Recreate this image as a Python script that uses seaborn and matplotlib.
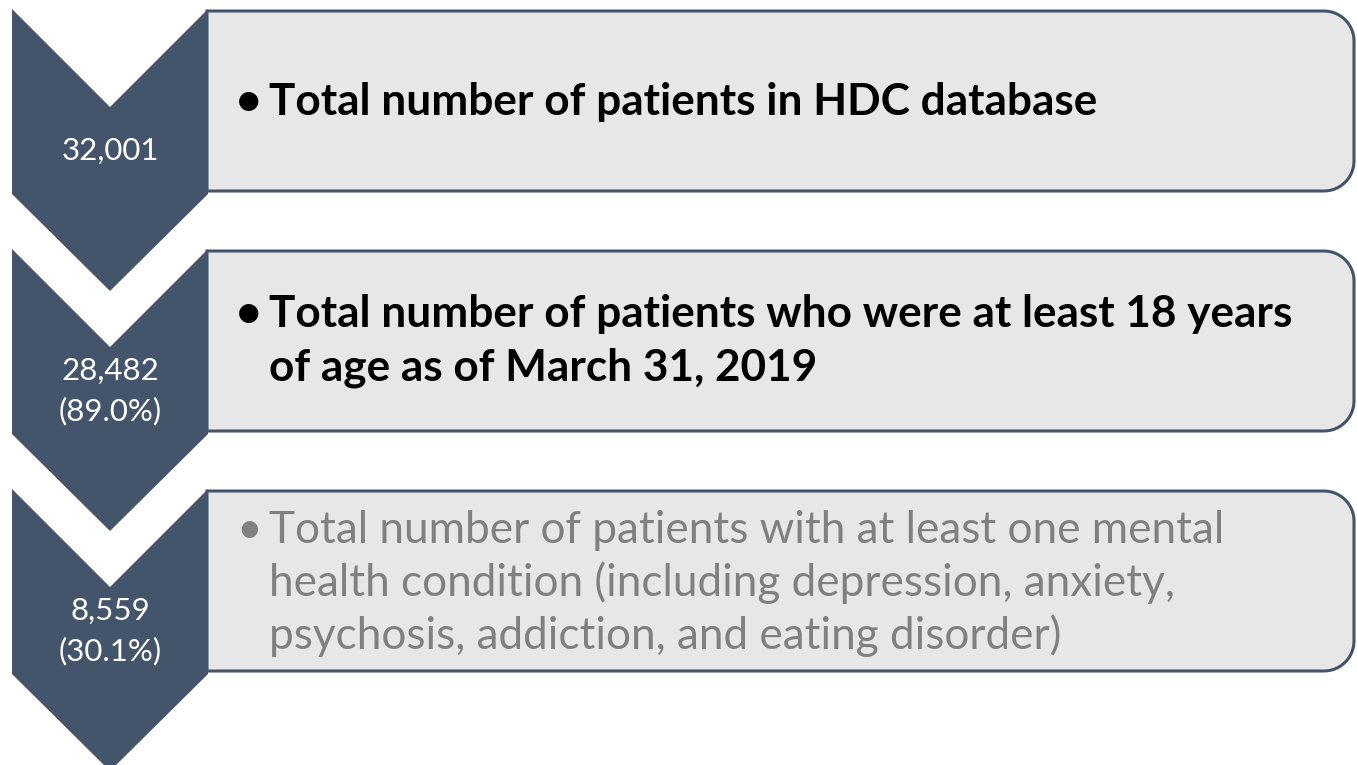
import numpy as np
import matplotlib.pyplot as plt
from matplotlib.patches import Polygon, PathPatch
from matplotlib.path import Path
import seaborn as sns

# Flow of patient selection (counts and share of previous step)
counts = ['32,001', '28,482', '8,559']
shares = ['', '(89.0%)', '(30.1%)']
steps = [
    ['Total number of patients in HDC database'],
    ['Total number of patients who were at least 18 years',
     'of age as of March 31, 2019'],
    ['Total number of patients with at least one mental',
     'health condition (including depression, anxiety,',
     'psychosis, addiction, and eating disorder)'],
]
bold_steps = [True, True, False]

chevron_color = '#44546A'
box_fill = '#E7E7E7'
text_colors = {True: '#000000', False: '#808080'}

sns.set_theme(style='white')
plt.rcParams['font.family'] = ['Lato', 'DejaVu Sans']

fig = plt.figure(figsize=(13.57, 7.65), dpi=100)
ax = fig.add_axes([0, 0, 1, 1])
ax.set_xlim(0, 1357)
ax.set_ylim(765, 0)
ax.axis('off')


def box_path(x0, y0, x1, y1, r):
    # square on the left, rounded on the right
    t1 = np.linspace(-np.pi / 2, 0, 15)
    t2 = np.linspace(0, np.pi / 2, 15)
    verts = [(x0, y0)]
    verts += [(x1 - r + r * np.cos(t), y0 + r + r * np.sin(t)) for t in t1]
    verts += [(x1 - r + r * np.cos(t), y1 - r + r * np.sin(t)) for t in t2]
    verts += [(x0, y1), (x0, y0)]
    return Path(verts, closed=True)


step_gap = 240
chev_left, chev_right = 12, 208
chev_mid = (chev_left + chev_right) / 2

for i, (n, pct, lines) in enumerate(zip(counts, shares, steps)):
    top = 9 + i * step_gap

    # rounded box
    patch = PathPatch(box_path(chev_right - 1, top + 2, 1354, top + 182, 30),
                      facecolor=box_fill, edgecolor=chevron_color, lw=2.2,
                      zorder=1)
    ax.add_patch(patch)

    # chevron
    chev = Polygon([(chev_left, top), (chev_mid, top + 98), (chev_right, top),
                    (chev_right, top + 185), (chev_mid, top + 282),
                    (chev_left, top + 185)],
                   closed=True, facecolor=chevron_color, edgecolor='none',
                   zorder=2)
    ax.add_patch(chev)

    # number inside chevron
    if pct:
        ax.text(chev_mid, top + 122, n, color='white',
                fontsize=22.5, ha='center', va='center', zorder=3)
        ax.text(chev_mid, top + 162, pct, color='white',
                fontsize=22.5, ha='center', va='center', zorder=3)
    else:
        ax.text(chev_mid, top + 142, n, color='white', fontsize=22.5,
                ha='center', va='center', zorder=3)

    # bullet text
    bold = bold_steps[i]
    col = text_colors[bold]
    weight = 'bold' if bold else 'normal'
    base = top + 106 if len(lines) == 1 else (top + 78 if len(lines) == 2 else top + 54)
    for j, line in enumerate(lines):
        ax.text(269, base + j * 53, line, color=col, fontsize=31.8,
                fontweight=weight, ha='left', va='baseline', zorder=3)
    ax.text(236, base, '\u2022', color=col, fontsize=31.8, fontweight=weight,
            ha='left', va='baseline', zorder=3)

fig.savefig('out.png', dpi=100)
